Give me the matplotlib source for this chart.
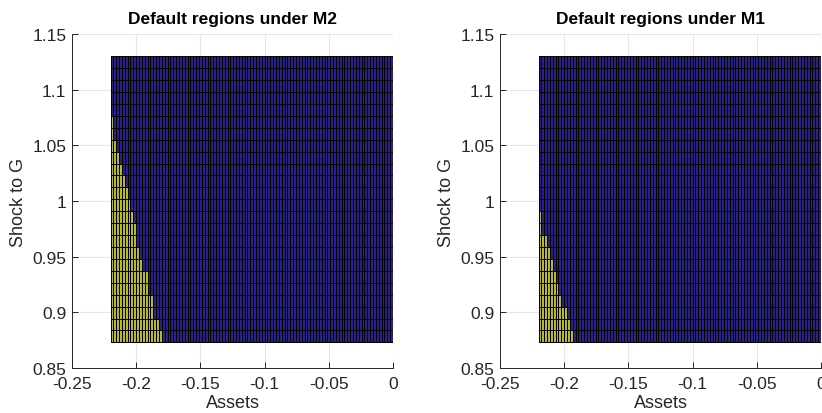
import numpy as np
import matplotlib
matplotlib.use("Agg")
import matplotlib.pyplot as plt
from matplotlib.colors import ListedColormap

plt.rcParams['font.family'] = ['Liberation Sans', 'DejaVu Sans']
plt.rcParams['axes.unicode_minus'] = False

# Grids (model grid points)
assets = np.linspace(-0.22, 0.0, 100)
shocks = np.linspace(0.873, 1.13, 25)

# Default boundary in assets for each shock row (bottom row first);
# cells whose asset value lies below the boundary are in default.
bound_m2 = [-0.1799, -0.1830, -0.1856, -0.1876, -0.1900, -0.1920, -0.1946,
            -0.1973, -0.1998, -0.2010, -0.2025, -0.2042, -0.2068, -0.2089,
            -0.2109, -0.2128, -0.2146, -0.2167, -0.2184,
            np.nan, np.nan, np.nan, np.nan, np.nan]
bound_m1 = [-0.1928, -0.1959, -0.1986, -0.2017, -0.2037, -0.2063, -0.2084,
            -0.2115, -0.2141, -0.2169, -0.2185,
            np.nan, np.nan, np.nan, np.nan, np.nan, np.nan, np.nan, np.nan,
            np.nan, np.nan, np.nan, np.nan, np.nan]

titles = ["Default regions under M2", "Default regions under M1"]
bounds = [bound_m2, bound_m1]

xticks = [-0.25, -0.2, -0.15, -0.1, -0.05, 0]
xticklabels = ["-0.25", "-0.2", "-0.15", "-0.1", "-0.05", "0"]
yticks = [0.85, 0.9, 0.95, 1.0, 1.05, 1.1, 1.15]
yticklabels = ["0.85", "0.9", "0.95", "1", "1.05", "1.1", "1.15"]

cmap = ListedColormap(["#2a2085", "#b8b82e"])
axcol = "#262626"

fig = plt.figure(figsize=(8.22, 4.14), dpi=100)
lefts = [72 / 822, 500 / 822]
for idx in range(2):
    ax = fig.add_axes([lefts[idx], 45 / 414, 321 / 822, 334 / 414])
    centers = 0.5 * (assets[:-1] + assets[1:])
    b = np.array(bounds[idx], dtype=float)
    C = np.zeros((len(shocks) - 1, len(assets) - 1))
    for j in range(len(shocks) - 1):
        if not np.isnan(b[j]):
            C[j] = (centers < b[j]).astype(float)
    ax.pcolormesh(assets, shocks, C, cmap=cmap, vmin=0, vmax=1,
                  edgecolors='k', linewidth=0.5, zorder=2)
    ax.set_xlim(-0.25, 0)
    ax.set_ylim(0.85, 1.15)
    ax.set_xticks(xticks)
    ax.set_xticklabels(xticklabels)
    ax.set_yticks(yticks)
    ax.set_yticklabels(yticklabels)
    ax.grid(True, color="#e6e6e6", linewidth=0.8, zorder=0)
    ax.set_axisbelow(True)
    for s in ["top", "right"]:
        ax.spines[s].set_visible(False)
    for s in ["left", "bottom"]:
        ax.spines[s].set_color(axcol)
        ax.spines[s].set_linewidth(0.7)
    ax.tick_params(direction='in', length=4, width=0.7, colors=axcol,
                   labelsize=12.5)
    ax.tick_params(axis='x', pad=6)
    ax.tick_params(axis='y', pad=4)
    ax.set_title(titles[idx], fontsize=12.5, fontweight='bold', pad=8)
    ax.set_xlabel("Assets", fontsize=13, color=axcol, labelpad=2)
    ax.set_ylabel("Shock to G", fontsize=13, color=axcol, labelpad=4)

fig.savefig("out.png", dpi=100)
